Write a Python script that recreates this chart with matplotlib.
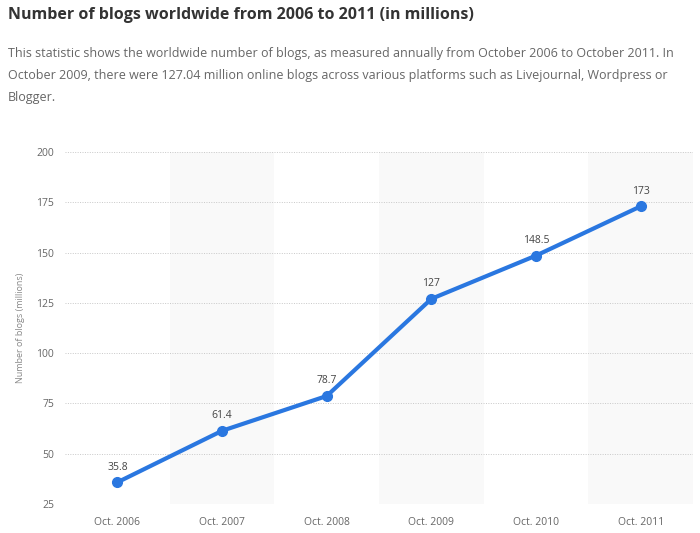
import numpy as np
import matplotlib.pyplot as plt

categories = ["Oct. 2006", "Oct. 2007", "Oct. 2008", "Oct. 2009", "Oct. 2010", "Oct. 2011"]
blogs = [35.8, 61.4, 78.7, 127, 148.5, 173]
labels = ["35.8", "61.4", "78.7", "127", "148.5", "173"]
yticks = [25, 50, 75, 100, 125, 150, 175, 200]

title = "Number of blogs worldwide from 2006 to 2011 (in millions)"
desc = ("This statistic shows the worldwide number of blogs, as measured annually from October 2006 to October 2011. In\n"
        "October 2009, there were 127.04 million online blogs across various platforms such as Livejournal, Wordpress or\n"
        "Blogger.")

plt.rcParams['font.family'] = ['Open Sans', 'DejaVu Sans']

fig = plt.figure(figsize=(7, 5.33), dpi=100)
ax = fig.add_axes([0.093, 0.0544, 0.897, 0.6604])

x = np.arange(len(categories))

# alternating shaded bands
for i in x:
    if i % 2 == 1:
        ax.axvspan(i - 0.5, i + 0.5, color='#f9f9f9', zorder=0, lw=0)

ax.plot(x, blogs, color='#2a77e0', lw=3, marker='o', ms=7, zorder=3,
        solid_capstyle='round')
for xi, v, lab in zip(x, blogs, labels):
    ax.annotate(lab, (xi, v), xytext=(0, 7), textcoords='offset points',
                ha='center', va='bottom', fontsize=7.5, color='#444444')

ax.set_xlim(-0.5, len(categories) - 0.5)
ax.set_ylim(25, 200)
ax.set_yticks(yticks)
ax.set_xticks(x)
ax.set_xticklabels(categories)
ax.grid(axis='y', color='#c8c8c8', ls=(0, (1, 1.5)), lw=0.7)
ax.set_axisbelow(True)
for s in ax.spines.values():
    s.set_visible(False)
ax.tick_params(length=0, labelsize=7.5, colors='#666666', pad=9)
ax.tick_params(axis='y', pad=8)
ax.set_ylabel("Number of blogs (millions)", fontsize=6.5, color='#888888', labelpad=8)

fig.text(0.011, 0.972, title, fontsize=11.5, fontweight='bold', color='#333333',
         ha='left', va='center')
fig.text(0.011, 0.911, desc, fontsize=9, color='#666666', ha='left', va='top',
         linespacing=1.88)

fig.savefig("out.png", dpi=100)
